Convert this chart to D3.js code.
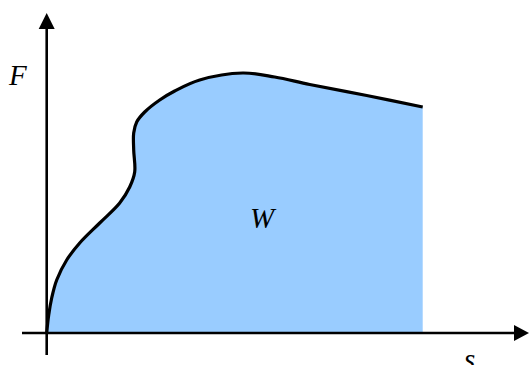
<!DOCTYPE html>
<html>
<head>
<meta charset="utf-8">
<script src="https://cdn.jsdelivr.net/npm/d3@7"></script>
<style>
  body { margin: 0; background: #fff; }
  text { font-family: "Liberation Serif", "DejaVu Serif", serif; font-style: italic; fill: #000; }
</style>
</head>
<body>
<div id="chart"></div>
<script>
// *** DATA ***
// displacement s and force F along the curve
let sValues = [0, 2, 5, 10, 20, 33, 53, 73, 83, 88, 87, 87, 90, 98, 113, 128, 153, 196, 228, 263, 320, 376];
let fValues = [0, 18, 35, 53, 73, 90, 110, 130, 146, 161, 183, 200, 211, 221, 233, 242, 253, 260, 256, 248.5, 237.5, 226];
let labels = {y: "F", x: "s", area: "W"};

// *** SETTINGS ***
let width = 529, height = 365;
let origin = {x: 46.7, y: 333};
let colors = {fill: "#99ccff", line: "#000"};

let svg = d3.select("#chart").append("svg")
  .attr("width", width)
  .attr("height", height);

let xScale = d3.scaleLinear().domain([0, 480]).range([origin.x, origin.x + 480]);
let yScale = d3.scaleLinear().domain([0, 320]).range([origin.y, origin.y - 320]);

let data = sValues.map((s, i) => ({s: s, f: fValues[i]}));
let last = data[data.length - 1];

let line = d3.line()
  .x(d => xScale(d.s))
  .y(d => yScale(d.f))
  .curve(d3.curveCatmullRom.alpha(0.5));

//Area under the curve
svg.append("path")
  .attr("d", line(data) + "L" + xScale(last.s) + "," + yScale(0) + "L" + xScale(0) + "," + yScale(0) + "Z")
  .attr("fill", colors.fill)
  .attr("stroke", "none");

//Axes
svg.append("line")
  .attr("x1", 22).attr("x2", 515)
  .attr("y1", yScale(0)).attr("y2", yScale(0))
  .style("stroke", colors.line).style("stroke-width", 2.6);

svg.append("line")
  .attr("x1", xScale(0)).attr("x2", xScale(0))
  .attr("y1", 355).attr("y2", 28)
  .style("stroke", colors.line).style("stroke-width", 2.6);

//Arrow heads
svg.append("path")
  .attr("d", `M${width},${yScale(0)} L514,${yScale(0) - 8} L514,${yScale(0) + 8} Z`)
  .attr("fill", colors.line);

svg.append("path")
  .attr("d", `M${xScale(0)},13 L${xScale(0) - 8},29 L${xScale(0) + 8},29 Z`)
  .attr("fill", colors.line);

//Curve
svg.append("path")
  .attr("d", line(data))
  .attr("fill", "none")
  .attr("stroke", colors.line)
  .attr("stroke-width", 3.2)
  .attr("stroke-linejoin", "round");

//Labels
svg.append("text").attr("x", 9).attr("y", 85).style("font-size", "29px").text(labels.y);
svg.append("text").attr("x", 250).attr("y", 228).style("font-size", "29px").text(labels.area);
svg.append("text").attr("x", 464).attr("y", 369).style("font-size", "29px").text(labels.x);
</script>
</body>
</html>
